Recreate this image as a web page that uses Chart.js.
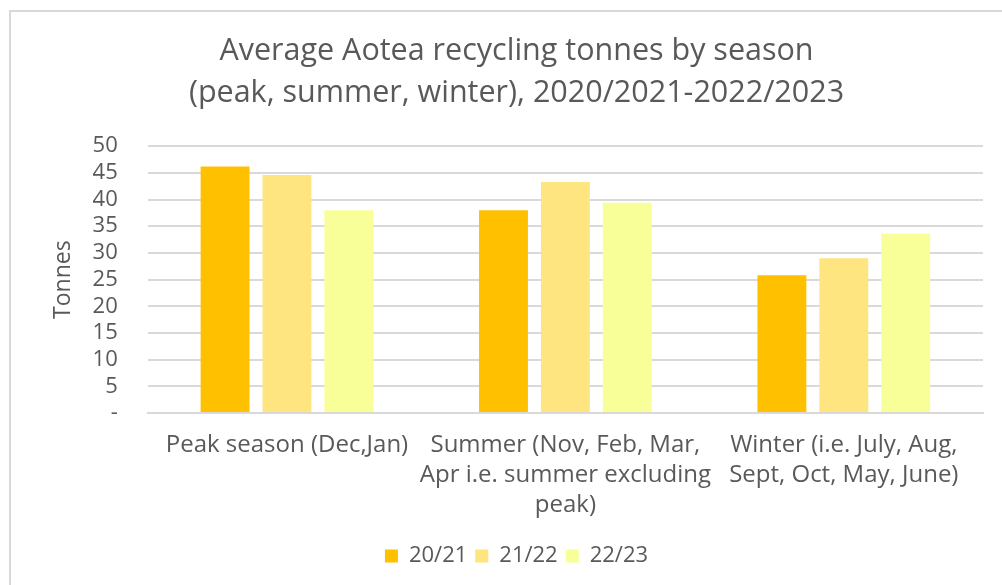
<!DOCTYPE html>
<html>
<head>
<meta charset="utf-8">
<script src="https://cdn.jsdelivr.net/npm/chart.js@4"></script>
<style>
  html, body { margin: 0; padding: 0; background: #fff; }
  #frame {
    position: absolute; left: 9px; top: 10px; width: 1010px; height: 600px;
    border: 2px solid #d9d9d9; box-sizing: border-box;
  }
  #wrap { position: absolute; left: 0; top: 0; width: 1002px; height: 585px; }
</style>
</head>
<body>
<div id="frame"></div>
<div id="wrap"><canvas id="barChart1"></canvas></div>
<script>
const seasons = [
  'Peak season (Dec,Jan)',
  ['Summer (Nov, Feb, Mar,', 'Apr i.e. summer excluding', 'peak)'],
  ['Winter (i.e. July, Aug,', 'Sept, Oct, May, June)']
];
const years = ['20/21', '21/22', '22/23'];
const tonnes2021 = [46.2, 38.0, 25.8];
const tonnes2122 = [44.6, 43.3, 29.0];
const tonnes2223 = [38.0, 39.4, 33.6];
const colours = ['#ffc000', '#ffe57f', '#f8ff99'];

(function() {
  const fontFamily = "'Open Sans', 'Noto Sans', sans-serif";
  Chart.defaults.color = '#595959';
  Chart.defaults.font.family = fontFamily;

  new Chart(
    document.getElementById('barChart1'),
    {
      type: 'bar',
      data: {
        labels: seasons,
        datasets: [tonnes2021, tonnes2122, tonnes2223].map((vals, i) => ({
          label: years[i],
          data: vals,
          backgroundColor: colours[i],
          categoryPercentage: 0.667,
          barPercentage: 0.79,
        }))
      },
      options: {
        responsive: true,
        maintainAspectRatio: false,
        animation: false,
        layout: { padding: { left: 50, right: 19, top: 14, bottom: 8 } },
        scales: {
          x: {
            grid: { display: false, drawTicks: false },
            border: { color: '#d9d9d9', width: 2 },
            ticks: { font: { size: 24, lineHeight: 1.25 }, padding: 17, maxRotation: 0, autoSkip: false }
          },
          y: {
            min: 0,
            max: 50,
            grid: { color: '#d9d9d9', lineWidth: 2, drawTicks: false },
            border: { display: false },
            ticks: {
              stepSize: 5,
              autoSkip: false,
              font: { size: 22, lineHeight: 1.0 },
              padding: 30,
              callback: v => v === 0 ? '-' : v
            },
            title: { display: true, text: 'Tonnes', font: { size: 23 }, padding: { top: 0, bottom: -15 } }
          }
        },
        plugins: {
          title: {
            display: true,
            text: ['Average Aotea recycling tonnes by season', '(peak, summer, winter), 2020/2021-2022/2023'],
            font: { size: 30.5, weight: 'normal', lineHeight: 1.38 },
            padding: { top: 16, bottom: 32 }
          },
          legend: {
            position: 'bottom',
            labels: { boxWidth: 13, boxHeight: 13, font: { size: 22 }, padding: 8 }
          },
          tooltip: { enabled: false }
        }
      }
    }
  );
})();
</script>
</body>
</html>
